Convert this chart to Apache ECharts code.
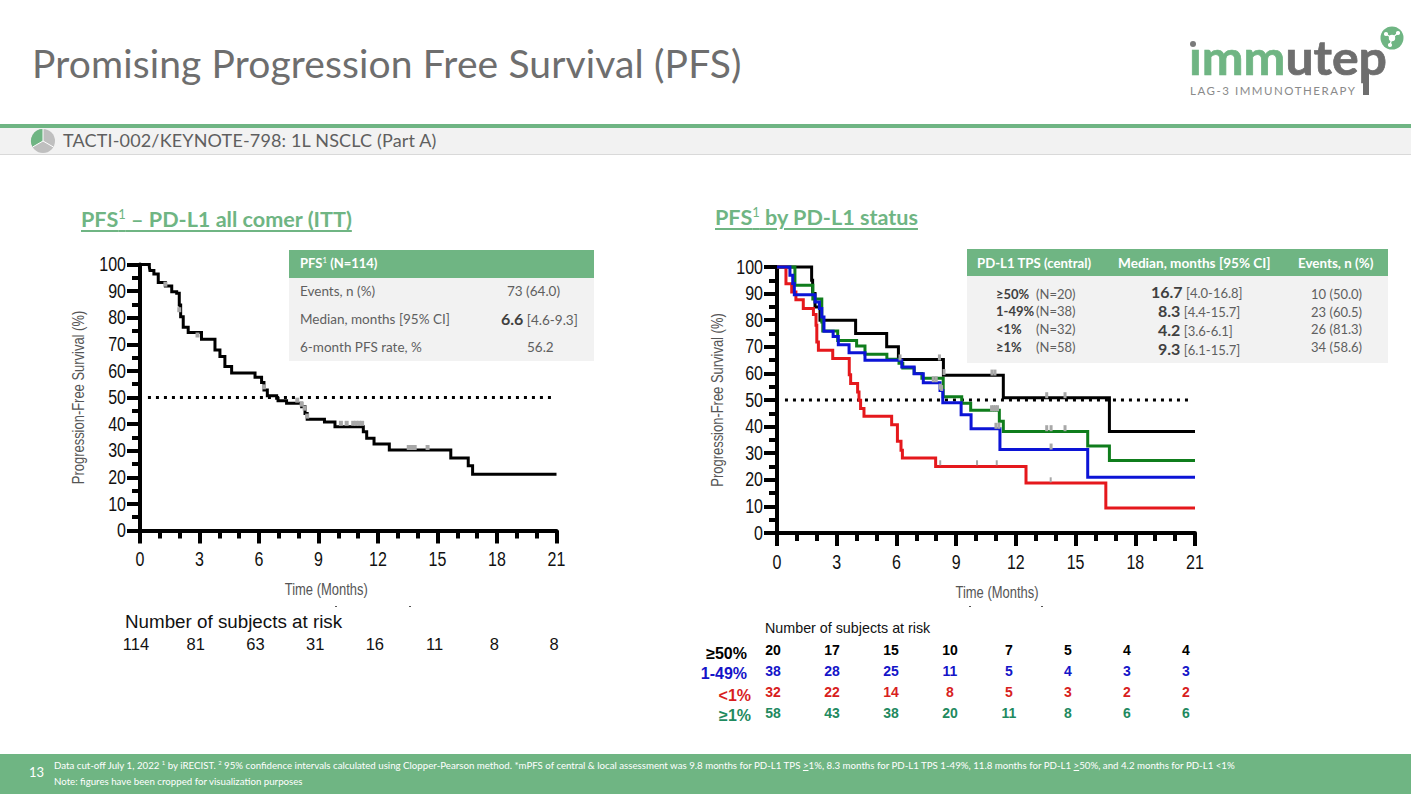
<!DOCTYPE html>
<html>
<head>
<meta charset="utf-8">
<script src="https://cdn.jsdelivr.net/npm/echarts@6/dist/echarts.min.js"></script>
<style>
html,body{margin:0;padding:0;background:#fff;width:1411px;height:794px;overflow:hidden;font-family:Lato,"Open Sans",sans-serif;}
#page{position:relative;width:1411px;height:794px;overflow:hidden;}
#chart{position:absolute;left:0;top:0;width:1411px;height:794px;z-index:3;}
.a{position:absolute;white-space:nowrap;line-height:1;}
.w{color:#fff;font-weight:700;}
.h{color:#6fb583;font-weight:700;font-size:21.6px;text-decoration:underline;text-underline-offset:3px;text-decoration-thickness:2px;}
sup{font-size:.6em;font-weight:400;line-height:0;}
.t{font-size:13px;color:#5f5f5f;}
.t b{color:#404040;font-size:16px;}
.l{font-size:13.5px;}
.rl{font-family:"Liberation Sans",Arial,sans-serif;font-weight:700;font-size:16px;}
</style>
</head>
<body>
<div id="page">
  <div class="a" style="left:32px;top:44px;font-size:39px;color:#6e6e6e;letter-spacing:.13px;">Promising Progression Free Survival (PFS)</div>
  <svg class="a" style="left:1180px;top:15px" width="231" height="95" viewBox="1180 15 231 95">
    <text x="1189" y="75" font-family="Lato" font-weight="700" font-size="48" stroke-width=".7" textLength="198" lengthAdjust="spacingAndGlyphs"><tspan fill="#6fb583" stroke="#6fb583">ımm</tspan><tspan fill="#6e6e6e" stroke="#6e6e6e">utep</tspan></text>
    <rect x="1363" y="70" width="6" height="25" fill="#6e6e6e"/>
    <circle cx="1193" cy="44" r="3" fill="#7a7a7a"/>
    <text x="1190" y="95" font-family="Lato" font-size="11.5" fill="#8a8a8a" textLength="165">LAG-3 IMMUNOTHERAPY</text>
    <circle cx="1392" cy="38" r="11.5" fill="#6fb583"/>
    <g stroke="#fff" stroke-width="1.2" fill="#fff"><line x1="1392" y1="38" x2="1386" y2="34"/><line x1="1392" y1="38" x2="1398" y2="33"/><line x1="1392" y1="38" x2="1390" y2="45"/><circle cx="1392" cy="38" r="2.6"/><circle cx="1386" cy="34" r="1.5"/><circle cx="1398" cy="33" r="1.5"/><circle cx="1390" cy="45" r="1.5"/></g>
  </svg>
  <div class="a" style="left:0;top:124px;width:1411px;height:4px;background:#6fb583"></div>
  <div class="a" style="left:0;top:128px;width:1411px;height:26px;background:#f2f2f2;border-bottom:1px solid #d9d9d9"></div>
  <svg class="a" style="left:30px;top:128px" width="26" height="26" viewBox="-13 -13 26 26">
    <circle r="12" fill="#bfbfbf"/>
    <path d="M0 0 L0 -12 A12 12 0 0 0 -10.4 6 Z" fill="#6fb583"/>
    <g stroke="#fff" stroke-width="1"><line x1="0" y1="0" x2="0" y2="-12"/><line x1="0" y1="0" x2="10.4" y2="6"/><line x1="0" y1="0" x2="-10.4" y2="6"/></g>
  </svg>
  <div class="a" style="left:63px;top:131px;font-size:18px;color:#5f5f5f;letter-spacing:.16px;">TACTI-002/KEYNOTE-798: 1L NSCLC (Part A)</div>

  <div class="a h" style="left:81px;top:209px;">PFS<sup>1</sup> – PD-L1 all comer (ITT)</div>
  <div class="a h" style="left:715px;top:207px;">PFS<sup>1</sup> by PD-L1 status</div>

  <div class="a" style="left:289px;top:250px;width:305px;height:28px;background:#6fb583"></div>
  <div class="a" style="left:289px;top:278px;width:305px;height:83px;background:#f2f2f2"></div>
  <div class="a w" style="left:300px;top:257px;font-size:13px;">PFS<sup>1</sup> (N=114)</div>
  <div class="a t l" style="left:300px;top:285px;">Events, n (%)</div>
  <div class="a t l" style="left:300px;top:313px;">Median, months [95% CI]</div>
  <div class="a t l" style="left:300px;top:341px;">6-month PFS rate, %</div>
  <div class="a t l" style="left:507px;top:285px;">73 (64.0)</div>
  <div class="a t l" style="left:501px;top:311px;"><b>6.6</b> [4.6-9.3]</div>
  <div class="a t l" style="left:527px;top:341px;">56.2</div>

  <div class="a" style="left:967px;top:249px;width:421px;height:27px;background:#6fb583"></div>
  <div class="a" style="left:967px;top:276px;width:421px;height:87px;background:#f2f2f2"></div>
  <div class="a w" style="left:977px;top:257px;font-size:13.2px;">PD-L1 TPS (central)</div>
  <div class="a w" style="left:1118px;top:257px;font-size:13.6px;">Median, months [95% CI]</div>
  <div class="a w" style="left:1298px;top:257px;font-size:13.4px;">Events, n (%)</div>
  <div class="a t" style="left:996px;top:288px;"><b style="font-size:13px">≥50%</b></div><div class="a t" style="left:1036px;top:288px;">(N=20)</div>
  <div class="a t" style="left:996px;top:305px;"><b style="font-size:13px">1-49%</b></div><div class="a t" style="left:1036px;top:305px;">(N=38)</div>
  <div class="a t" style="left:996px;top:323px;"><b style="font-size:13px">&lt;1%</b></div><div class="a t" style="left:1036px;top:323px;">(N=32)</div>
  <div class="a t" style="left:996px;top:341px;"><b style="font-size:13px">≥1%</b></div><div class="a t" style="left:1036px;top:341px;">(N=58)</div>
  <div class="a t" style="left:1151px;top:284px;"><b>16.7</b> [4.0-16.8]</div>
  <div class="a t" style="left:1158px;top:303px;"><b>8.3</b> [4.4-15.7]</div>
  <div class="a t" style="left:1158px;top:322px;"><b>4.2</b> [3.6-6.1]</div>
  <div class="a t" style="left:1158px;top:341px;"><b>9.3</b> [6.1-15.7]</div>
  <div class="a t" style="left:1311px;top:288px;">10 (50.0)</div>
  <div class="a t" style="left:1311px;top:306px;">23 (60.5)</div>
  <div class="a t" style="left:1311px;top:323px;">26 (81.3)</div>
  <div class="a t" style="left:1311px;top:341px;">34 (58.6)</div>

  <div class="a" style="left:125px;top:613px;font-family:'Liberation Sans';font-size:18.8px;color:#111;">Number of subjects at risk</div>
  <div class="a" style="left:765px;top:621px;font-family:'Liberation Sans';font-size:14.3px;color:#111;">Number of subjects at risk</div>
  <div class="a rl" style="right:664px;top:646px;color:#000;">≥50%</div>
  <div class="a rl" style="right:664px;top:666px;color:#1414c8;">1-49%</div>
  <div class="a rl" style="right:660px;top:688px;color:#d81e1e;">&lt;1%</div>
  <div class="a rl" style="right:660px;top:708px;color:#1f8a5f;">≥1%</div>
  <div class="a" style="left:335px;top:606px;width:2px;height:1px;background:#555"></div>
  <div class="a" style="left:409px;top:606px;width:2px;height:1px;background:#555"></div>
  <div class="a" style="left:969px;top:606px;width:2px;height:1px;background:#555"></div>
  <div class="a" style="left:1041px;top:606px;width:2px;height:1px;background:#555"></div>

  <div class="a" style="left:0;top:754px;width:1411px;height:40px;background:#6fb583"></div>
  <div class="a" style="left:29px;top:766px;font-size:13px;color:#fff;">13</div>
  <div class="a" id="fn1" style="left:54px;top:759px;font-size:9.7px;color:#fff;line-height:1.25;">Data cut-off July 1, 2022 <sup>1</sup> by iRECIST. <sup>2</sup> 95% confidence intervals calculated using Clopper-Pearson method. *mPFS of central &amp; local assessment was 9.8 months for PD-L1 TPS <u>&gt;</u>1%, 8.3 months for PD-L1 TPS 1-49%, 11.8 months for PD-L1 <u>&gt;</u>50%, and 4.2 months for PD-L1 &lt;1%</div>
  <div class="a" id="fn2" style="left:54px;top:777px;font-size:9.7px;color:#fff;">Note: figures have been cropped for visualization purposes</div>

  <div id="chart"></div>
</div>
<script>
// ---- Tick labels / at-risk columns
const atRiskTimepoints = [0, 3, 6, 9, 12, 15, 18, 21];

// ---- ITT (all comers) curve
const ittMonths   = [0, 0.47, 0.5, 0.7, 0.92, 1.28, 1.6, 1.85, 1.98, 2.05, 2.18, 2.43, 3.1, 3.78, 4.03, 4.28, 4.62, 5.46, 5.8, 6.13, 6.25, 6.42, 6.89, 6.96, 7.39, 8.15, 8.32, 8.43, 9.3, 9.83, 11.26, 11.43, 11.8, 12.57, 15.67, 16.55, 16.77, 21];
const ittSurvival = [100, 99.1, 97.7, 96.4, 93.2, 91.9, 89.8, 89.2, 84.8, 80.4, 76.4, 74.4, 71.9, 67.9, 65.4, 61.7, 59.2, 59.2, 57.6, 55.6, 52.8, 50.7, 49.7, 48.8, 47.8, 46.5, 44, 41.8, 40.8, 39, 37.1, 34.7, 32.5, 30.3, 27.3, 24.3, 21.1, 21.1];
const ittCensorMonths   = [1.28, 1.98, 2.9, 6.25, 7.93, 8.15, 8.3, 8.43, 10.13, 10.42, 10.75, 10.9, 11.05, 11.2, 13.55, 13.7, 13.85, 14.5];
const ittCensorSurvival = [92.6, 83, 73.5, 54, 49, 47.5, 46, 43, 40.3, 40.3, 40.3, 40.3, 40.3, 40.3, 31.2, 31.2, 31.2, 31.2];
const ittAtRisk = [114, 81, 63, 31, 16, 11, 8, 8];

// ---- PD-L1 >=50 %
const highMonths   = [0, 1.74, 1.79, 1.91, 2.16, 3.95, 5.51, 6.1, 8.36, 11.37, 16.7, 21];
const highSurvival = [100, 95, 90, 85, 80, 75, 70, 65.2, 59.3, 50.8, 38.2, 38.2];
const highCensorMonths   = [6.18, 8.16, 8.39, 10.8, 10.95, 13.55, 14.47];
const highCensorSurvival = [66, 66, 60.5, 60.3, 60.3, 51.8, 51.8];
const highAtRisk = [20, 17, 15, 10, 7, 5, 4, 4];

// ---- PD-L1 1-49 %
const midMonths   = [0, 0.57, 0.65, 0.79, 0.87, 1.91, 2, 2.13, 2.25, 2.36, 2.82, 3.08, 3.62, 4.42, 6.27, 6.89, 7.35, 8.19, 8.33, 9.25, 9.75, 11.2, 15.61, 21];
const midSurvival = [100, 100, 96.9, 93.8, 89.6, 86.8, 86.8, 84.4, 81.2, 75.8, 73.9, 70.8, 67.8, 64.9, 62.4, 59.9, 56.5, 53.6, 49, 44.5, 39.2, 31.4, 21, 21];
const midCensorMonths   = [7.85, 8.0, 8.2, 11.0, 11.15, 13.77];
const midCensorSurvival = [57.8, 57.8, 55, 40.3, 40.3, 32.5];
const midAtRisk = [38, 28, 25, 11, 5, 4, 3, 3];

// ---- PD-L1 <1 %
const lowMonths   = [0, 0.45, 0.74, 0.95, 1.32, 1.83, 1.96, 2, 2.08, 2.8, 3.58, 3.63, 3.7, 4.05, 4.12, 4.2, 4.37, 5.76, 6.05, 6.23, 6.3, 7.97, 12.51, 16.52, 21];
const lowSurvival = [100, 93.7, 90.6, 87.7, 84.4, 82.1, 78.1, 71.8, 68.7, 65.6, 65.6, 59.5, 56.2, 53, 49.9, 46.8, 43.9, 40.7, 34.5, 31.1, 28.2, 25, 18.8, 9.4, 9.4];
const lowCensorMonths   = [8.2, 10.05, 11.04, 13.75];
const lowCensorSurvival = [26.4, 26.4, 26.4, 20];
const lowAtRisk = [32, 22, 14, 8, 5, 3, 2, 2];

// ---- PD-L1 >=1 %
const posMonths   = [0, 0.6, 0.9, 1.8, 2.25, 2.3, 3.05, 3.67, 4, 4.42, 5.52, 6.13, 6.32, 6.89, 7.28, 8.35, 9.28, 9.73, 11.17, 11.37, 15.61, 16.7, 21];
const posSurvival = [100, 100, 93.1, 88, 79.3, 75.9, 72.4, 72.4, 70.3, 67.2, 65.3, 63.8, 62, 60, 58.2, 51.2, 48.8, 46.1, 42, 38.2, 32.7, 27.3, 27.3];
const posCensorMonths   = [8.27, 10.78, 10.88, 10.98, 11.08, 13.55, 13.77, 14.47];
const posCensorSurvival = [54.5, 46.9, 46.9, 46.9, 46.9, 39.4, 39.4, 39.4];
const posAtRisk = [58, 43, 38, 20, 11, 8, 6, 6];

// ---- 50 % reference line
const refMonthsLeft  = [0.4, 20.77];
const refMonthsRight = [0.4, 20.75];
const refSurvival    = [50, 50];

const zip = (a, b) => a.map((v, i) => [v, b[i]]);

const BLACK = '#000000', GREEN = '#0f7d1c', BLUE = '#0c14d6', RED = '#e5181c', CENSOR = '#a8a8a8';
const FONT = '"Liberation Sans",Arial,sans-serif';
const TICK_SIZE = 20, NAME_SIZE = 16.2, NARROWING = 0.8;

function xAxisFor(grid, pad) {
  return {
    gridIndex: grid, type: 'value', min: 0, max: 21, interval: 3,
    axisLine: {show: true, onZero: false, lineStyle: {color: '#000', width: 4}},
    axisTick: {show: true, length: 13, lineStyle: {color: '#000', width: 4}},
    minorTick: {show: true, splitNumber: 3, length: 8, lineStyle: {color: '#000', width: 4}},
    axisLabel: {color: '#111', fontFamily: FONT, fontSize: TICK_SIZE, margin: 19},
    splitLine: {show: false}, minorSplitLine: {show: false},
    name: 'Time (Months)', nameLocation: 'middle', nameGap: 51,
    nameTextStyle: {color: '#555', fontFamily: FONT, fontSize: NAME_SIZE, padding: pad}
  };
}
function yAxisFor(grid, gap) {
  return {
    gridIndex: grid, type: 'value', min: 0, max: 100, interval: 10,
    axisLine: {show: true, onZero: false, lineStyle: {color: '#000', width: 4}},
    axisTick: {show: true, length: 13, lineStyle: {color: '#000', width: 4}},
    minorTick: {show: true, splitNumber: 2, length: 8, lineStyle: {color: '#000', width: 4}},
    axisLabel: {color: '#111', fontFamily: FONT, fontSize: TICK_SIZE, margin: 14},
    splitLine: {show: false}, minorSplitLine: {show: false},
    name: 'Progression-Free Survival (%)', nameLocation: 'middle', nameGap: gap,
    nameTextStyle: {color: '#555', fontFamily: FONT, fontSize: NAME_SIZE}
  };
}
function curve(name, months, surv, color, ax) {
  return {name, type: 'line', step: 'end', xAxisIndex: ax, yAxisIndex: ax, data: zip(months, surv),
    showSymbol: false, symbol: 'none', silent: true, clip: false,
    lineStyle: {color, width: 3, join: 'miter', cap: 'butt'}};
}
function censor(name, months, surv, ax, size) {
  return {name, type: 'scatter', xAxisIndex: ax, yAxisIndex: ax, data: zip(months, surv),
    symbol: 'rect', symbolSize: size, silent: true, z: 5, itemStyle: {color: CENSOR, opacity: 1}};
}
function reference(months, ax) {
  return {type: 'line', xAxisIndex: ax, yAxisIndex: ax, data: zip(months, refSurvival),
    showSymbol: false, symbol: 'none', silent: true,
    lineStyle: {color: '#000', width: 3, type: [3, 5]}};
}
function atRisk(values, row, ax, color, font) {
  return {type: 'scatter', xAxisIndex: ax, yAxisIndex: ax, data: zip(atRiskTimepoints, values.map(() => row)),
    symbolSize: 0, silent: true, itemStyle: {opacity: 1},
    label: {show: true, position: 'inside', color, fontFamily: font.family, fontSize: font.size, fontWeight: font.weight,
      opacity: 1, textBorderWidth: 0, textBorderColor: 'transparent',
      formatter: (p) => values[p.dataIndex]}};
}
const hiddenX = (g) => ({gridIndex: g, type: 'value', min: 0, max: 21, show: false});
const hiddenY = (g, rows) => ({gridIndex: g, type: 'category', data: rows, inverse: true, show: false});

const chart = echarts.init(document.getElementById('chart'), null, {renderer: 'svg', width: 1411, height: 794});

// The reference's axis type is a condensed Arial-like face; narrow the axis text horizontally
// about each text's own anchor point.
function narrowAxisText() {
  document.querySelectorAll('#chart svg text').forEach((t) => {
    const size = parseFloat(getComputedStyle(t).fontSize);
    if ((size !== TICK_SIZE && size !== NAME_SIZE) || t.dataset.narrowed) return;
    const x = parseFloat(t.getAttribute('x')) || 0;
    const y = parseFloat(t.getAttribute('y')) || 0;
    const base = t.getAttribute('transform') || '';
    t.setAttribute('transform', `${base} translate(${x} ${y}) scale(${NARROWING} 1) translate(${-x} ${-y})`);
    t.dataset.narrowed = '1';
  });
}

chart.setOption({
  animation: false,
  backgroundColor: 'transparent',
  grid: [
    {left: 140, top: 264.5, width: 416.5, height: 266},
    {left: 777, top: 267, width: 418, height: 266},
    {left: 136, top: 631, width: 418, height: 26},
    {left: 773, top: 639, width: 413, height: 85}
  ],
  xAxis: [xAxisFor(0, [0, 44, 0, 0]), xAxisFor(1, [0, 0, 0, 22]), hiddenX(2), hiddenX(3)],
  yAxis: [yAxisFor(0, 54), yAxisFor(1, 52), hiddenY(2, ['ITT']), hiddenY(3, ['≥50%', '1-49%', '<1%', '≥1%'])],
  series: [
    reference(refMonthsLeft, 0),
    curve('ITT', ittMonths, ittSurvival, BLACK, 0),
    censor('ITT censored', ittCensorMonths, ittCensorSurvival, 0, [4, 5]),
    reference(refMonthsRight, 1),
    curve('≥50%', highMonths, highSurvival, BLACK, 1),
    curve('≥1%', posMonths, posSurvival, GREEN, 1),
    curve('<1%', lowMonths, lowSurvival, RED, 1),
    curve('1-49%', midMonths, midSurvival, BLUE, 1),
    censor('≥50% censored', highCensorMonths, highCensorSurvival, 1, [3, 6]),
    censor('≥1% censored', posCensorMonths, posCensorSurvival, 1, [3, 6]),
    censor('1-49% censored', midCensorMonths, midCensorSurvival, 1, [3, 6]),
    censor('<1% censored', lowCensorMonths, lowCensorSurvival, 1, [2, 5]),
    atRisk(ittAtRisk, 'ITT', 2, '#111', {family: 'Liberation Sans', size: 16.5, weight: 400}),
    atRisk(highAtRisk, '≥50%', 3, '#000', {family: 'Liberation Sans', size: 14, weight: 700}),
    atRisk(midAtRisk, '1-49%', 3, '#1414c8', {family: 'Liberation Sans', size: 14, weight: 700}),
    atRisk(lowAtRisk, '<1%', 3, '#d81e1e', {family: 'Liberation Sans', size: 14, weight: 700}),
    atRisk(posAtRisk, '≥1%', 3, '#1f8a5f', {family: 'Liberation Sans', size: 14, weight: 700})
  ]
});
narrowAxisText();
chart.on('finished', narrowAxisText);
</script>
</body>
</html>
